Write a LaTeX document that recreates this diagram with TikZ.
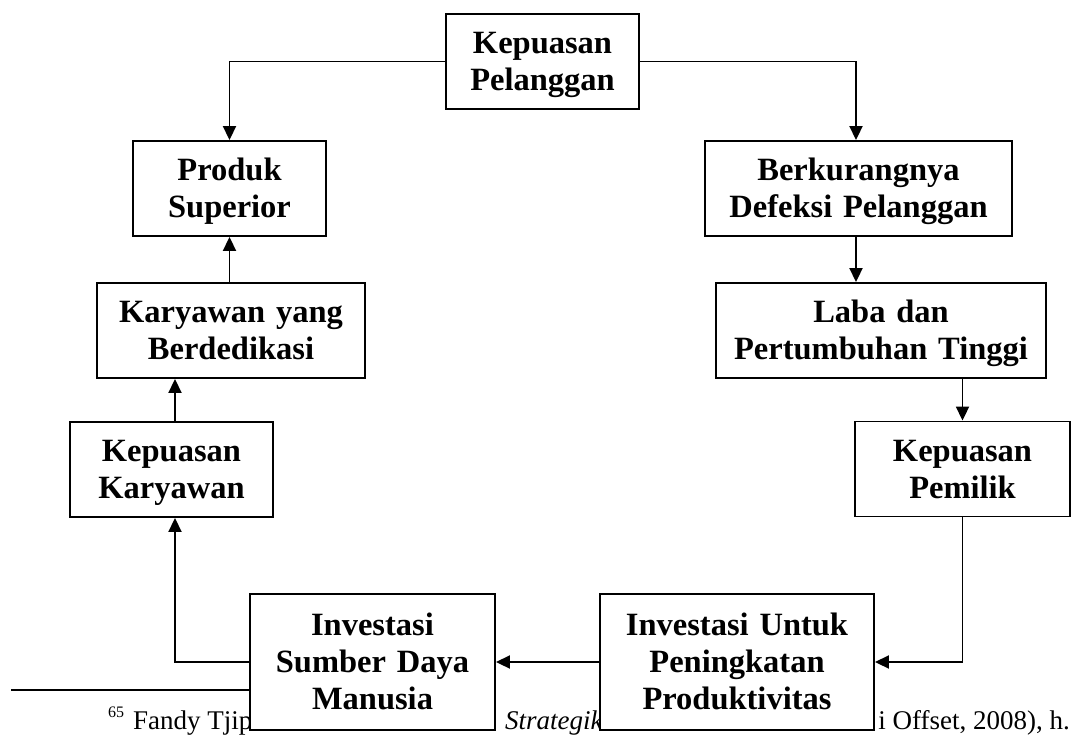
\documentclass[tikz,border=0pt]{standalone}
\usepackage{fontspec}
\setmainfont{Liberation Serif}
\usetikzlibrary{arrows.meta}
\tikzset{
  box/.style={draw, line width=1.9pt, fill=white, inner xsep=0pt, inner ysep=0pt,
    align=center, font=\fontsize{32.5}{37}\selectfont\bfseries, text height=21.5pt},
  two/.style={text depth=37pt},
  three/.style={text depth=74pt},
  conn/.style={line width=1.9pt, -{Triangle[length=14pt,width=13pt]}},
  foot/.style={inner sep=0pt, font=\fontsize{27}{30}\selectfont}
}
\begin{document}
\begin{tikzpicture}[x=1pt,y=-1pt]
\useasboundingbox (0,0) rectangle (1073,734);
% footnote (partly hidden by the boxes)
\draw[line width=1.9pt] (11,690) -- (300,690);
\node[inner sep=0pt, anchor=base west, font=\fontsize{16}{18}\selectfont] (fnum) at (108,717) {65};
\node[foot, anchor=base west] (f1) at (133,729) {Fandy Tjip};
\node[foot, anchor=base west] (f2) at (505,729) {\itshape Strategik};
\node[foot, anchor=base east] (f3) at (1070,729) {i Offset, 2008), h.};
% boxes
\node[box, two, minimum width=193pt, minimum height=95pt, text width=189pt] (kpel) at (542.5,61.5) {Kepuasan\\Pelanggan};
\node[box, two, minimum width=193pt, minimum height=95pt, text width=189pt] (ps) at (229.5,188.5) {Produk\\Superior};
\node[box, two, minimum width=307pt, minimum height=95pt, text width=303pt] (bdp) at (858.5,188.5) {Berkurangnya\\Defeksi Pelanggan};
\node[box, two, minimum width=268pt, minimum height=95pt, text width=264pt] (kyb) at (231,330.5) {Karyawan yang\\Berdedikasi};
\node[box, two, minimum width=330pt, minimum height=95pt, text width=326pt] (lpt) at (881,330.5) {Laba dan\\Pertumbuhan Tinggi};
\node[box, two, minimum width=203pt, minimum height=95pt, text width=199pt] (kk) at (171.5,469.5) {Kepuasan\\Karyawan};
\node[box, two, minimum width=215pt, minimum height=95pt, text width=211pt] (kpem) at (962.5,469) {Kepuasan\\Pemilik};
\node[box, three, minimum width=245pt, minimum height=136pt, text width=241pt] (isdm) at (372.5,662) {Investasi\\Sumber Daya\\Manusia};
\node[box, three, minimum width=274pt, minimum height=136pt, text width=270pt] (iupp) at (737,662) {Investasi Untuk\\Peningkatan\\Produktivitas};
% connectors
\draw[conn] (kpel.west) -| (ps.north);
\draw[conn] (kpel.east) -| ([xshift=-2.5pt]bdp.north);
\draw[conn] ([xshift=-2.5pt]bdp.south) -- ([xshift=-2.5pt]bdp.south |- lpt.north);
\draw[conn] (lpt.south -| kpem.north) -- (kpem.north);
\draw[conn] (kpem.south) |- (iupp.east);
\draw[conn] (iupp.west) -- (isdm.east);
\draw[conn] (isdm.west) -| ([xshift=3.5pt]kk.south);
\draw[conn] ([xshift=3.5pt]kk.north) -- ([xshift=3.5pt]kk.north |- kyb.south);
\draw[conn] (kyb.north -| ps.south) -- (ps.south);
\end{tikzpicture}
\end{document}
